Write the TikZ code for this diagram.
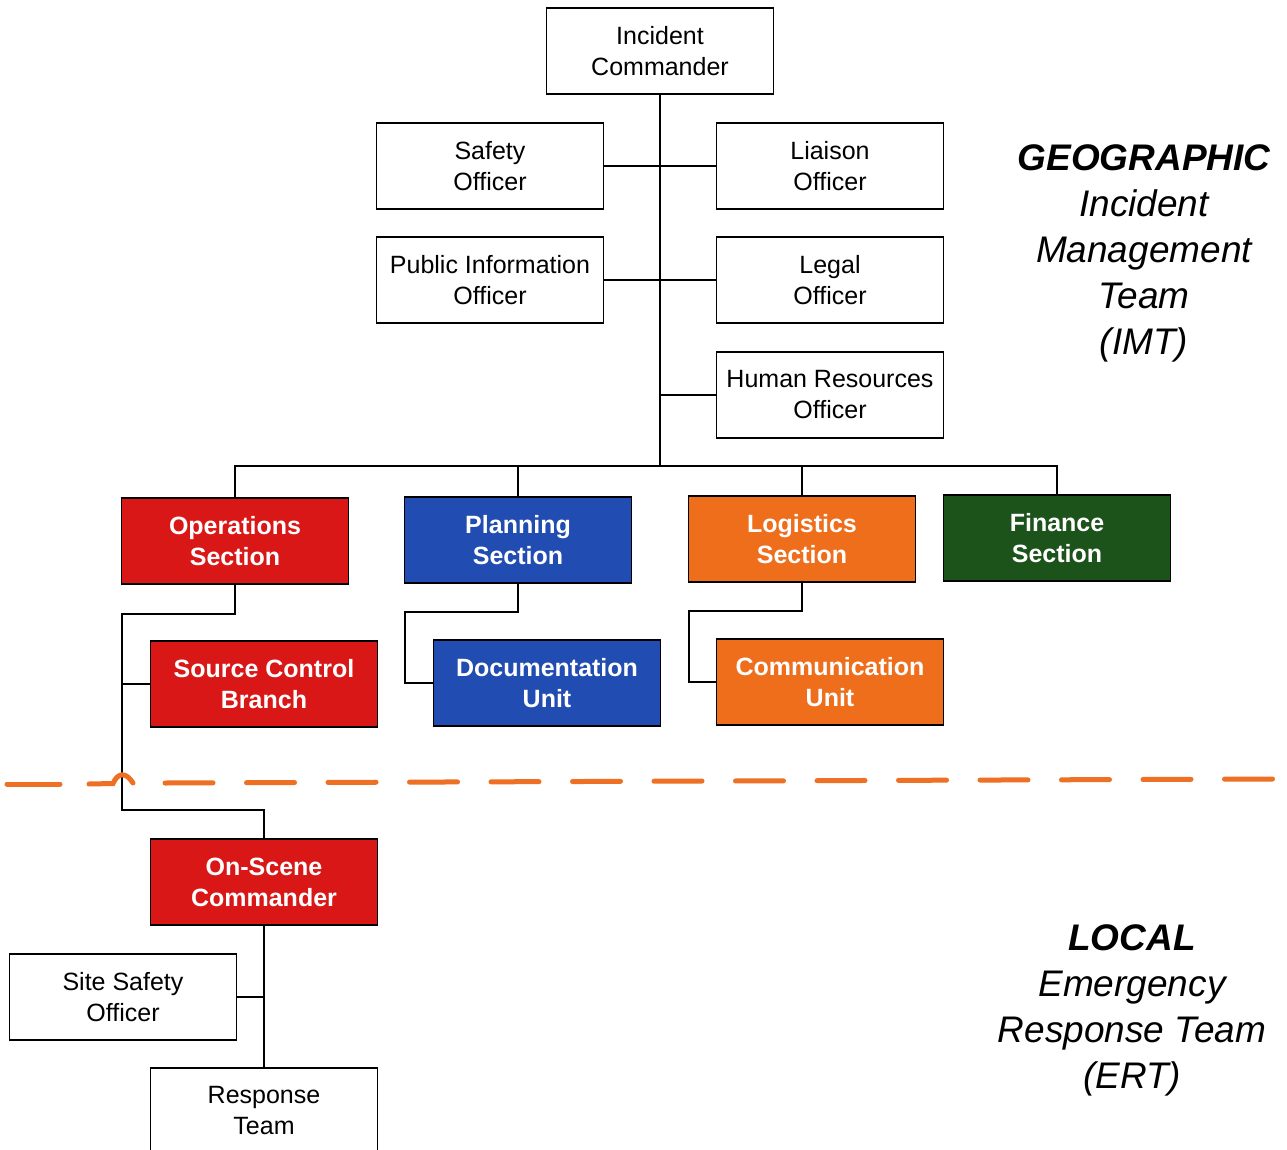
\documentclass[tikz,border=0pt]{standalone}
\usepackage{fontspec}
\setmainfont{Liberation Sans}
\definecolor{opsred}{HTML}{DA1717}
\definecolor{planblue}{HTML}{214CB2}
\definecolor{logorange}{HTML}{EE6E1C}
\definecolor{fingreen}{HTML}{1B531B}
\definecolor{divider}{HTML}{EE7024}
\tikzset{
  box/.style={draw=black, line width=1.5pt, minimum width=227pt, minimum height=86pt,
    align=center, inner sep=0pt, font=\fontsize{25}{31}\selectfont},
  whitebox/.style={box, fill=white},
  colbox/.style={box, fill=#1, text=white, font=\fontsize{25}{31}\selectfont\bfseries},
  link/.style={draw=black, line width=1.8pt},
  sidelabel/.style={align=center, font=\fontsize{37}{46}\selectfont\itshape},
  divline/.style={draw=divider, line width=5pt, line cap=round}
}
\begin{document}
\begin{tikzpicture}[x=1pt,y=-1pt]
\useasboundingbox (0,0) rectangle (1287,1150);
\clip (0,0) rectangle (1287,1150);
\fill[white] (0,0) rectangle (1287,1150);

% command and general staff
\node[whitebox] (ic)  at (660,51)  {Incident\\Commander};
\node[whitebox] (so)  at (490,166) {Safety\\Officer};
\node[whitebox] (lo)  at (830,166) {Liaison\\Officer};
\node[whitebox] (pio) at (490,280) {Public Information\\Officer};
\node[whitebox] (leg) at (830,280) {Legal\\Officer};
\node[whitebox] (hr)  at (830,395) {Human Resources\\Officer};

% sections
\node[colbox=opsred]    (ops)  at (235,541)  {Operations\\Section};
\node[colbox=planblue]  (plan) at (518,540)  {Planning\\Section};
\node[colbox=logorange] (log)  at (802,539)  {Logistics\\Section};
\node[colbox=fingreen]  (fin)  at (1057,538) {Finance\\Section};

% branches and units
\node[colbox=opsred]    (src)  at (264,684) {Source Control\\Branch};
\node[colbox=planblue]  (doc)  at (547,683) {Documentation\\Unit};
\node[colbox=logorange] (com)  at (830,682) {Communication\\Unit};

% local emergency response team
\node[colbox=opsred] (osc) at (264,882)  {On-Scene\\Commander};
\node[whitebox]      (sso) at (123,997)  {Site Safety\\Officer};
\node[whitebox]      (rt)  at (264,1111) {Response\\Team};

% joints
\coordinate (bus) at (660,466);
\coordinate (opsbus) at (122,614);
\coordinate (opsturn) at (122,810);
\coordinate (planbus) at (405,612);
\coordinate (logbus) at (689,611);

% connectors in the command structure
\draw[link] (ic.south) -- (bus);
\draw[link] (so.east) -- (lo.west);
\draw[link] (pio.east) -- (leg.west);
\draw[link] (hr.west) -- (hr.west -| ic.south);
\draw[link] (ops.north) |- (bus) -| (fin.north);
\draw[link] (plan.north) -- (plan.north |- bus);
\draw[link] (log.north) -- (log.north |- bus);

\draw[link] (ops.south) |- (opsbus) -- (opsturn) -| (osc.north);
\draw[link] (opsbus |- src.west) -- (src.west);
\draw[link] (plan.south) |- (planbus) |- (doc.west);
\draw[link] (log.south) |- (logbus) |- (com.west);

\draw[link] (osc.south) -- (rt.north);
\draw[link] (sso.east) -- (sso.east -| osc.south);

% boundary between IMT and ERT
\draw[divline] (7,784) -- (60,784);
\draw[divline] (89,784) -- (113,783.5) .. controls (118,772) and (126,772) .. (133,783);
\draw[divline, dash pattern=on 48pt off 33.5pt] (165,783) -- (1277,779);

% team labels
\node[sidelabel] (geo) at (1144,253)
  {{\bfseries GEOGRAPHIC}\\Incident\\Management\\Team\\(IMT)};
\node[sidelabel] (loc) at (1132,1010)
  {{\bfseries LOCAL}\\Emergency\\Response Team\\(ERT)};
\end{tikzpicture}
\end{document}
